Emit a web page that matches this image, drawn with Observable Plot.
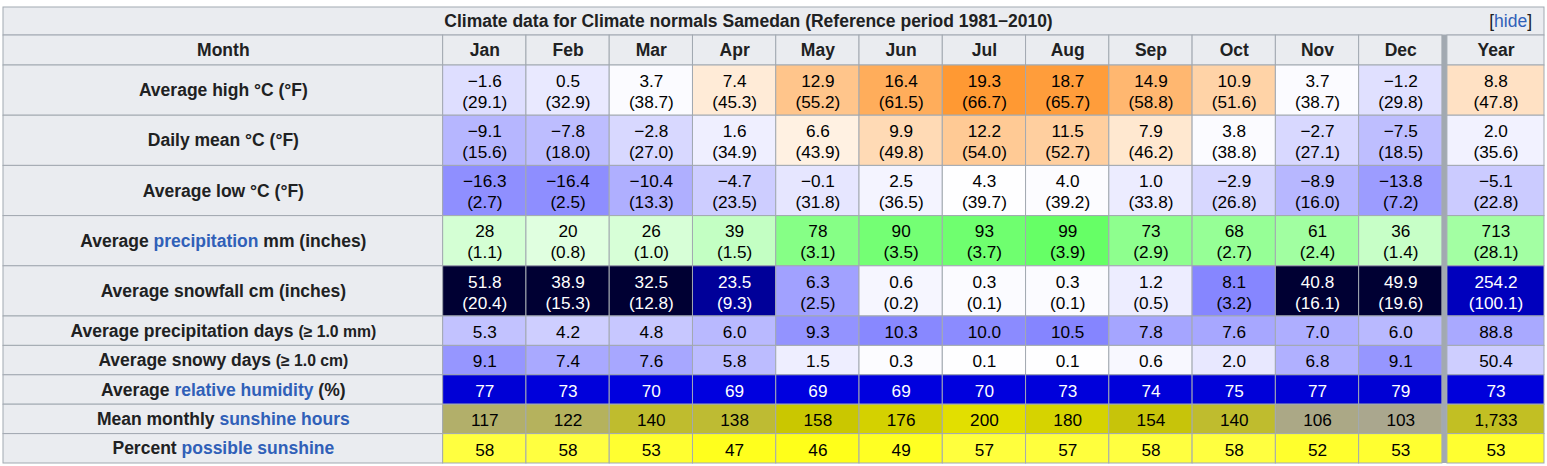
<!DOCTYPE html>
<html><head><meta charset="utf-8">
<script src="https://cdn.jsdelivr.net/npm/d3@7"></script>
<script src="https://cdn.jsdelivr.net/npm/@observablehq/plot@0.6"></script>
<style>html,body{margin:0;background:#fff;} svg{display:block;}</style>
</head><body><div id="chart"></div>
<script>
// ---------- data ----------
const title = "Climate data for Climate normals Samedan (Reference period 1981−2010)";
const hideLabel = ["[", "hide", "]"];
const headerLabel = "Month";
const columns = ["Jan","Feb","Mar","Apr","May","Jun","Jul","Aug","Sep","Oct","Nov","Dec","Year"];

const highC  = [-1.6, 0.5, 3.7, 7.4, 12.9, 16.4, 19.3, 18.7, 14.9, 10.9, 3.7, -1.2, 8.8];
const highF  = [29.1, 32.9, 38.7, 45.3, 55.2, 61.5, 66.7, 65.7, 58.8, 51.6, 38.7, 29.8, 47.8];
const meanC  = [-9.1, -7.8, -2.8, 1.6, 6.6, 9.9, 12.2, 11.5, 7.9, 3.8, -2.7, -7.5, 2.0];
const meanF  = [15.6, 18.0, 27.0, 34.9, 43.9, 49.8, 54.0, 52.7, 46.2, 38.8, 27.1, 18.5, 35.6];
const lowC   = [-16.3, -16.4, -10.4, -4.7, -0.1, 2.5, 4.3, 4.0, 1.0, -2.9, -8.9, -13.8, -5.1];
const lowF   = [2.7, 2.5, 13.3, 23.5, 31.8, 36.5, 39.7, 39.2, 33.8, 26.8, 16.0, 7.2, 22.8];
const precipMm = [28, 20, 26, 39, 78, 90, 93, 99, 73, 68, 61, 36, 713];
const precipIn = [1.1, 0.8, 1.0, 1.5, 3.1, 3.5, 3.7, 3.9, 2.9, 2.7, 2.4, 1.4, 28.1];
const snowCm = [51.8, 38.9, 32.5, 23.5, 6.3, 0.6, 0.3, 0.3, 1.2, 8.1, 40.8, 49.9, 254.2];
const snowIn = [20.4, 15.3, 12.8, 9.3, 2.5, 0.2, 0.1, 0.1, 0.5, 3.2, 16.1, 19.6, 100.1];
const precipDays = [5.3, 4.2, 4.8, 6.0, 9.3, 10.3, 10.0, 10.5, 7.8, 7.6, 7.0, 6.0, 88.8];
const snowDays   = [9.1, 7.4, 7.6, 5.8, 1.5, 0.3, 0.1, 0.1, 0.6, 2.0, 6.8, 9.1, 50.4];
const humidity   = [77, 73, 70, 69, 69, 69, 70, 73, 74, 75, 77, 79, 73];
const sunHours   = [117, 122, 140, 138, 158, 176, 200, 180, 154, 140, 106, 103, 1733];
const sunPercent = [58, 58, 53, 47, 46, 49, 57, 57, 58, 58, 52, 53, 53];

const labelHigh   = [["Average high °C (°F)", ""]];
const labelMean   = [["Daily mean °C (°F)", ""]];
const labelLow    = [["Average low °C (°F)", ""]];
const labelPrecip = [["Average ", ""], ["precipitation", "link"], [" mm (inches)", ""]];
const labelSnow   = [["Average snowfall cm (inches)", ""]];
const labelPDays  = [["Average precipitation days ", ""], ["(≥ 1.0 mm)", "small"]];
const labelSDays  = [["Average snowy days ", ""], ["(≥ 1.0 cm)", "small"]];
const labelHum    = [["Average ", ""], ["relative humidity", "link"], [" (%)", ""]];
const labelSunH   = [["Mean monthly ", ""], ["sunshine hours", "link"]];
const labelSunP   = [["Percent ", ""], ["possible sunshine", "link"]];

// ---------- styling ----------
const FONT = "'Liberation Sans', Arial, sans-serif";
const BORDER = "#a2a9b1";
const HEAD_BG = "#eaecf0";
const INK = "#202122";
const LINK = "#3060b8";
const FS = 17.2;      // cell numbers
const FSB = 17.5;     // bold headings

const clamp = v => Math.max(0, Math.min(1, v));
const rgb = (r, g, b) => d3.rgb(Math.round(r), Math.round(g), Math.round(b)).formatHex();
function tempColor(v) {
  if (v <= 4.5) { const f = clamp((v + 42.75) / 47.25) * 255; return rgb(f, f, 255); }
  return rgb(255, clamp((41.5 - v) / 37) * 255, clamp((23 - v) / 18.5) * 255);
}
function precipColor(v) { const f = clamp(1 - v / 165) * 255; return rgb(f, 255, f); }
function snowColor(v) {
  if (v <= 17) { const f = clamp(1 - v / 17) * 255; return rgb(f, f, 255); }
  return rgb(0, 0, Math.max(51, 255 - (v - 17) * 15.7));
}
function daysColor(v) { const f = clamp(1 - v / 22) * 255; return rgb(f, f, 255); }
function humColor(v) { return rgb(0, 0, Math.min(255, 255 - (v - 40) * 1.1)); }
function sunColor(v) {
  const f = Math.min(230, 110 + 0.58 * v);
  return rgb(f, f - 3, Math.max(0, 150 - (v - 100) * 2.6));
}
function pctColor(v) { return rgb(255, 255, Math.max(0, (v - 38) * 3.2)); }

const minus = s => s.replace("-", "\u2212");
const f1 = v => minus(v.toFixed(1));
const f0 = v => minus(d3.format(",")(v));

const rows = [
  {parts: labelHigh,   main: highC, sub: highF, fm: f1, color: tempColor, yearDiv: 1},
  {parts: labelMean,   main: meanC, sub: meanF, fm: f1, color: tempColor, yearDiv: 1},
  {parts: labelLow,    main: lowC,  sub: lowF,  fm: f1, color: tempColor, yearDiv: 1},
  {parts: labelPrecip, main: precipMm, sub: precipIn, fm: f0, color: precipColor, yearDiv: 12},
  {parts: labelSnow,   main: snowCm, sub: snowIn, fm: f1, color: snowColor, yearDiv: 12},
  {parts: labelPDays,  main: precipDays, fm: f1, color: daysColor, yearDiv: 12},
  {parts: labelSDays,  main: snowDays, fm: f1, color: daysColor, yearDiv: 12},
  {parts: labelHum,    main: humidity, fm: f0, color: humColor, yearDiv: 1},
  {parts: labelSunH,   main: sunHours, fm: f0, color: sunColor, yearDiv: 12},
  {parts: labelSunP,   main: sunPercent, fm: f0, color: pctColor, yearDiv: 1}
];

// ---------- table layout (in column / row units) ----------
const LABEL_W = 5.28, GAP = 0.06, YEAR_W = 1.166;
const X_TOTAL = LABEL_W + 12 + GAP + YEAR_W;
const TITLE_H = 0.953, HEADER_H = 1.02, ROW2_H = 1.707, ROW1_H = 1;
const HIDE_RESERVE = 0.612, HIDE_PAD = 0.15;

const colX = columns.map((c, i) => i < 12
  ? {x1: LABEL_W + i, x2: LABEL_W + i + 1}
  : {x1: LABEL_W + 12 + GAP, x2: LABEL_W + 12 + GAP + YEAR_W});

let yCursor = TITLE_H + HEADER_H;
const rowY = rows.map(r => { const h = r.sub ? ROW2_H : ROW1_H; const o = {y1: yCursor, y2: yCursor + h}; yCursor += h; return o; });
const Y_TOTAL = yCursor;

const frame = [{x1: 0, x2: X_TOTAL, y1: 0, y2: TITLE_H},
  {x1: 0, x2: LABEL_W, y1: TITLE_H, y2: TITLE_H + HEADER_H},
  ...colX.map(c => ({...c, y1: TITLE_H, y2: TITLE_H + HEADER_H})),
  ...rowY.map(r => ({x1: 0, x2: LABEL_W, ...r}))];

const headerTexts = [{x: LABEL_W / 2, y: TITLE_H + HEADER_H / 2, t: headerLabel},
  ...colX.map((c, i) => ({x: (c.x1 + c.x2) / 2, y: TITLE_H + HEADER_H / 2, t: columns[i]}))];

const cells = [];
rows.forEach((r, ri) => {
  columns.forEach((c, ci) => {
    const v = r.main[ci];
    const bg = r.color(ci === 12 ? v / r.yearDiv : v);
    const text = r.sub ? `${r.fm(v)}\n(${f1(r.sub[ci])})` : r.fm(v);
    cells.push({...colX[ci], ...rowY[ri], bg, text, ink: d3.lab(bg).l < 50 ? "#ffffff" : "#000000"});
  });
});
const sep = [{x1: LABEL_W + 12, x2: LABEL_W + 12 + GAP, y1: TITLE_H, y2: Y_TOTAL}];
const labelTexts = rows.map((r, i) => ({x: LABEL_W / 2, y: (rowY[i].y1 + rowY[i].y2) / 2, t: r.parts.map(p => p[0]).join("")}));
const hideText = hideLabel.join("");

const chart = Plot.plot({
  width: 1547, height: 466, margin: 0,
  x: {domain: [0, X_TOTAL], range: [3, 1544], axis: null},
  y: {domain: [0, Y_TOTAL], range: [7, 463], axis: null},
  color: {type: "identity"},
  style: {fontFamily: FONT, background: "#ffffff", overflow: "visible"},
  marks: [
    Plot.rect(frame, {x1: "x1", x2: "x2", y1: "y1", y2: "y2", fill: HEAD_BG, stroke: BORDER}),
    Plot.rect(cells, {x1: "x1", x2: "x2", y1: "y1", y2: "y2", fill: "bg", stroke: BORDER}),
    Plot.rect(sep, {x1: "x1", x2: "x2", y1: "y1", y2: "y2", fill: BORDER}),
    Plot.text([title], {x: (X_TOTAL - HIDE_RESERVE) / 2, y: TITLE_H / 2, text: d => d, fontSize: FSB, fontWeight: "bold", fill: INK}),
    Plot.text([hideText], {x: X_TOTAL - HIDE_PAD, y: TITLE_H / 2, text: d => d, fontSize: FSB, textAnchor: "end", fill: INK}),
    Plot.text(headerTexts, {x: "x", y: "y", text: "t", fontSize: FSB, fontWeight: "bold", fill: INK}),
    Plot.text(labelTexts, {x: "x", y: "y", text: "t", fontSize: FSB, fontWeight: "bold", fill: INK}),
    Plot.text(cells, {x: d => (d.x1 + d.x2) / 2, y: d => (d.y1 + d.y2) / 2, text: "text", fill: "ink", fontSize: FS, lineHeight: 1.22})
  ]
});

// rich text (links, smaller parts) inside the label texts
const NS = "http://www.w3.org/2000/svg";
function richify(el, parts) {
  el.textContent = "";
  el.style.whiteSpace = "pre";
  for (const [t, s] of parts) {
    const ts = document.createElementNS(NS, "tspan");
    ts.textContent = t;
    if (s === "link") ts.setAttribute("fill", LINK);
    if (s === "small") ts.setAttribute("font-size", "90%");
    el.appendChild(ts);
  }
}
const labelMap = new Map(labelTexts.map((d, i) => [d.t, rows[i].parts]));
labelMap.set(hideText, [[hideLabel[0], ""], [hideLabel[1], "link"], [hideLabel[2], ""]]);
chart.querySelectorAll("text").forEach(el => {
  const parts = labelMap.get(el.textContent);
  if (parts) richify(el, parts);
});

document.getElementById("chart").appendChild(chart);
</script>
</body></html>
